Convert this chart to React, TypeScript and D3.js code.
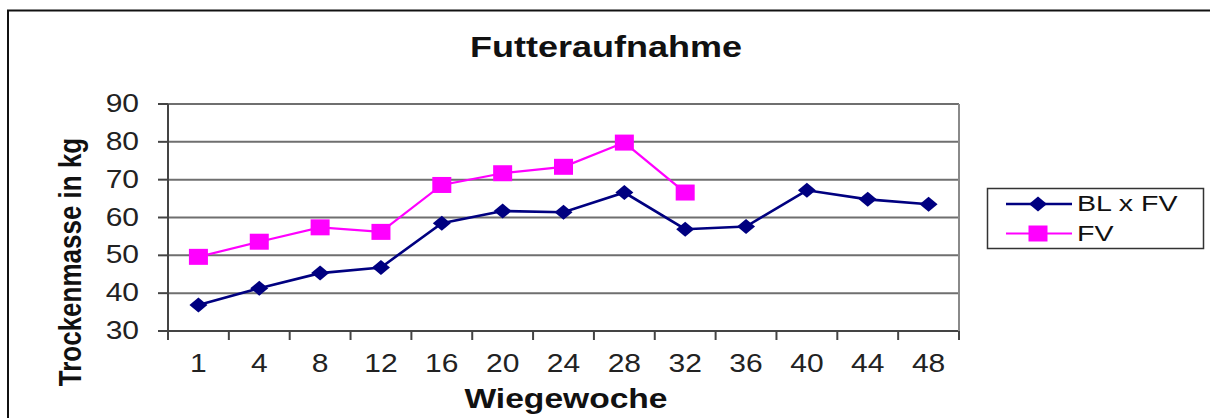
import React from 'react';
import * as d3 from 'd3';

const weeks = ['1', '4', '8', '12', '16', '20', '24', '28', '32', '36', '40', '44', '48'];
const blxfv = [36.9, 41.3, 45.3, 46.8, 58.5, 61.7, 61.4, 66.6, 56.9, 57.6, 67.2, 64.8, 63.5];
const fv = [49.6, 53.6, 57.4, 56.2, 68.6, 71.7, 73.4, 79.8, 66.6];
const yTicks = [30, 40, 50, 60, 70, 80, 90];

const FONT = '"Liberation Sans", Arial, sans-serif';
// the source picture is stretched sideways a bit
const SX = 1.2;

const App = () => {
  const margin = { left: 168, right: 251, top: 104, bottom: 87 };
  const W = 1210;
  const H = 418;

  const x = d3
    .scaleBand<string>()
    .domain(weeks)
    .range([margin.left, W - margin.right])
    .padding(0);

  const y = d3
    .scaleLinear()
    .domain([30, 90])
    .range([H - margin.bottom, margin.top]);

  const cx = (i: number) => (x(weeks[i]) as number) + x.bandwidth() / 2;

  const line = d3
    .line<number>()
    .x((d, i) => cx(i))
    .y((d) => y(d));

  const x0 = margin.left;
  const x1 = W - margin.right;
  const y0 = y(30);
  const yTop = y(90);

  // diamond / square markers, wider than tall like the reference
  const diamond = (px: number, py: number) =>
    `M${px},${py - 7.5}L${px + 9},${py}L${px},${py + 7.5}L${px - 9},${py}Z`;

  return (
    <svg
      width={W}
      height={H}
      style={{ position: 'absolute', left: 0, top: 0, background: '#fff' }}
    >
      {/* outer chart frame */}
      <rect x={8} y={10.5} width={1300} height={500} fill="none" stroke="#111" strokeWidth={2} />

      {/* title */}
      <text
        transform={`translate(606, 56.5) scale(${SX}, 1)`}
        textAnchor="middle"
        fontFamily={FONT}
        fontWeight="bold"
        fontSize={30}
        fill="#111"
      >
        Futteraufnahme
      </text>

      {/* grid */}
      {yTicks.map((t) => (
        <line
          key={'g' + t}
          x1={x0}
          x2={x1}
          y1={y(t)}
          y2={y(t)}
          stroke={t === 30 ? '#444' : '#6f6f6f'}
          strokeWidth={2}
        />
      ))}
      <line x1={x1} x2={x1} y1={yTop} y2={y0} stroke="#8a8a8a" strokeWidth={2} />

      {/* y axis */}
      <line x1={x0} x2={x0} y1={yTop} y2={y0} stroke="#444" strokeWidth={2} />
      {yTicks.map((t) => (
        <g key={'yt' + t}>
          <line x1={x0 - 10} x2={x0} y1={y(t)} y2={y(t)} stroke="#444" strokeWidth={2} />
          <text
            transform={`translate(139, ${y(t) + 8}) scale(${SX}, 1)`}
            textAnchor="end"
            fontFamily={FONT}
            fontSize={25}
            fill="#222"
          >
            {t}
          </text>
        </g>
      ))}

      {/* x axis ticks */}
      {weeks.map((w) => (
        <line
          key={'xt' + w}
          x1={x(w) as number}
          x2={x(w) as number}
          y1={y0}
          y2={y0 + 9}
          stroke="#444"
          strokeWidth={2}
        />
      ))}
      <line x1={x1} x2={x1} y1={y0} y2={y0 + 9} stroke="#444" strokeWidth={2} />
      {weeks.map((w, i) => (
        <text
          key={'xl' + w}
          transform={`translate(${cx(i)}, 371.5) scale(${SX}, 1)`}
          textAnchor="middle"
          fontFamily={FONT}
          fontSize={25}
          fill="#222"
        >
          {w}
        </text>
      ))}

      {/* axis titles */}
      <text
        transform={`translate(566, 408) scale(${SX}, 1)`}
        textAnchor="middle"
        fontFamily={FONT}
        fontWeight="bold"
        fontSize={28}
        fill="#111"
      >
        Wiegewoche
      </text>
      <text
        transform={`translate(81, 262) rotate(-90) scale(1, ${SX})`}
        textAnchor="middle"
        fontFamily={FONT}
        fontWeight="bold"
        fontSize={26}
        fill="#111"
      >
        Trockenmasse in kg
      </text>

      {/* series */}
      <path d={line(fv) as string} fill="none" stroke="#ff00ff" strokeWidth={2.2} />
      {fv.map((v, i) => (
        <rect key={'fv' + i} x={cx(i) - 9.5} y={y(v) - 8} width={19} height={16} fill="#ff00ff" />
      ))}
      <path d={line(blxfv) as string} fill="none" stroke="#000080" strokeWidth={2.6} />
      {blxfv.map((v, i) => (
        <path key={'bl' + i} d={diamond(cx(i), y(v))} fill="#000080" />
      ))}

      {/* legend */}
      <rect x={987.5} y={188.5} width={216} height={60} fill="#fff" stroke="#333" strokeWidth={1.5} />
      <line x1={1006} x2={1072} y1={204} y2={204} stroke="#000080" strokeWidth={2.6} />
      <path d={diamond(1038, 204)} fill="#000080" />
      <text
        transform={`translate(1077, 211) scale(1.3, 1)`}
        fontFamily={FONT}
        fontSize={22}
        fill="#111"
      >
        BL x FV
      </text>
      <line x1={1006} x2={1072} y1={233.5} y2={233.5} stroke="#ff00ff" strokeWidth={2.2} />
      <rect x={1028.5} y={225.5} width={19} height={16} fill="#ff00ff" />
      <text
        transform={`translate(1077, 241) scale(1.3, 1)`}
        fontFamily={FONT}
        fontSize={22}
        fill="#111"
      >
        FV
      </text>
    </svg>
  );
};

export default App;
